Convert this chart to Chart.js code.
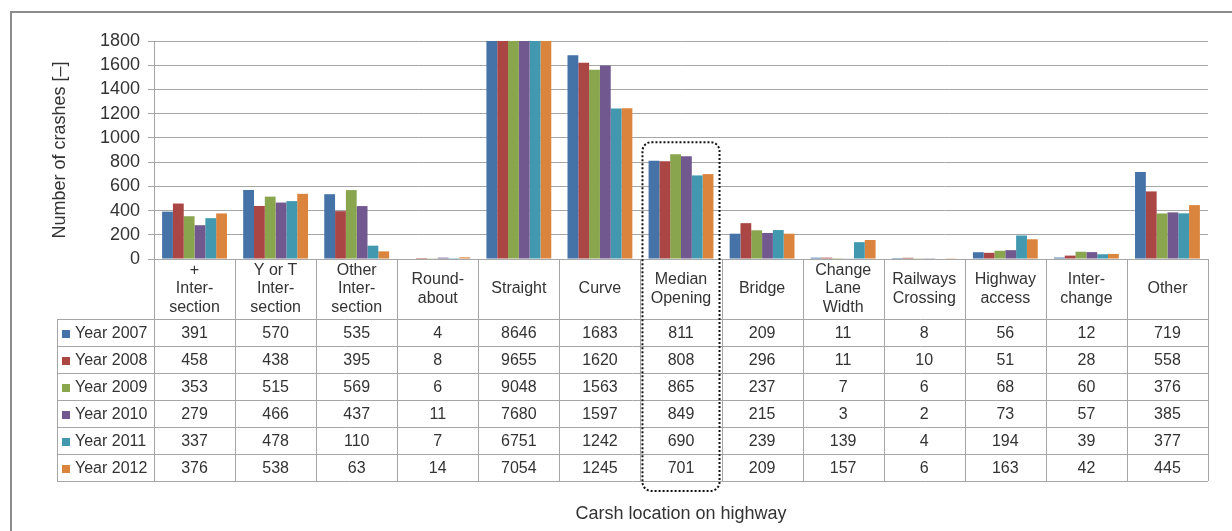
<!DOCTYPE html>
<html>
<head>
<meta charset="utf-8">
<script src="https://cdn.jsdelivr.net/npm/chart.js@4.4.1/dist/chart.umd.min.js"></script>
<style>
  html, body { margin: 0; padding: 0; background: #fff; }
  #wrap { width: 1232px; height: 531px; position: relative; }
</style>
</head>
<body>
<div id="wrap"><canvas id="crashChart"></canvas></div>
<script>
// categories (header lines of the data table)
const locations = [
    ['+', 'Inter-', 'section'],
    ['Y or T', 'Inter-', 'section'],
    ['Other', 'Inter-', 'section'],
    ['Round-', 'about'],
    ['Straight'],
    ['Curve'],
    ['Median', 'Opening'],
    ['Bridge'],
    ['Change', 'Lane', 'Width'],
    ['Railways', 'Crossing'],
    ['Highway', 'access'],
    ['Inter-', 'change'],
    ['Other']
];

const years = ['Year 2007', 'Year 2008', 'Year 2009', 'Year 2010', 'Year 2011', 'Year 2012'];

const year2007 = [391, 570, 535, 4, 8646, 1683, 811, 209, 11, 8, 56, 12, 719];
const year2008 = [458, 438, 395, 8, 9655, 1620, 808, 296, 11, 10, 51, 28, 558];
const year2009 = [353, 515, 569, 6, 9048, 1563, 865, 237, 7, 6, 68, 60, 376];
const year2010 = [279, 466, 437, 11, 7680, 1597, 849, 215, 3, 2, 73, 57, 385];
const year2011 = [337, 478, 110, 7, 6751, 1242, 690, 239, 139, 4, 194, 39, 377];
const year2012 = [376, 538, 63, 14, 7054, 1245, 701, 209, 157, 6, 163, 42, 445];

const yearColors = ['#4572A7', '#AA4643', '#89A54E', '#71588F', '#4198AF', '#DB843D'];

const yMax = 1800;
const yStep = 200;
const highlighted = 'Median Opening'; // column with the dotted box

const FONT = 'Liberation Sans, Arial, sans-serif';
const LINE = '#a6a6a6';
const TEXT = '#333';

const series = [year2007, year2008, year2009, year2010, year2011, year2012];

// draws the outer frame, the data table under the axis and the dotted box
const dataTablePlugin = {
    id: 'dataTable',
    beforeDraw(chart) {
        const ctx = chart.ctx;
        ctx.save();
        ctx.strokeStyle = '#8c8c8c';
        ctx.lineWidth = 2;
        ctx.strokeRect(11, 12, 1240, 540);
        ctx.restore();
    },
    afterDraw(chart) {
        const { ctx, chartArea, scales: { x, y } } = chart;
        const labels = chart.data.labels;
        const colW = (x.right - x.left) / labels.length;
        const headTop = chartArea.bottom;
        const headBottom = headTop + 60;
        const rowH = 27;
        const tableLeft = 57;
        const tableBottom = headBottom + rowH * series.length;

        ctx.save();
        ctx.strokeStyle = LINE;
        ctx.lineWidth = 1;

        // vertical lines of the category columns
        for (let i = 0; i <= labels.length; i++) {
            const px = Math.round(x.left + i * colW) + 0.5;
            ctx.beginPath();
            ctx.moveTo(px, headTop);
            ctx.lineTo(px, tableBottom);
            ctx.stroke();
        }
        // legend column left edge
        ctx.beginPath();
        ctx.moveTo(tableLeft + 0.5, headBottom);
        ctx.lineTo(tableLeft + 0.5, tableBottom);
        ctx.stroke();
        // horizontal row lines
        for (let r = 0; r <= series.length; r++) {
            const py = Math.round(headBottom + r * rowH) + 0.5;
            ctx.beginPath();
            ctx.moveTo(tableLeft, py);
            ctx.lineTo(x.right, py);
            ctx.stroke();
        }

        ctx.fillStyle = TEXT;
        ctx.font = '16px ' + FONT;
        ctx.textAlign = 'center';
        ctx.textBaseline = 'middle';

        // header: category names
        labels.forEach((lines, i) => {
            const cx = x.getPixelForValue(i);
            const mid = (headTop + headBottom) / 2;
            const lh = 18.3;
            lines.forEach((t, k) => {
                ctx.fillText(t, cx, mid + (k - (lines.length - 1) / 2) * lh);
            });
        });

        // rows: legend key + values
        series.forEach((vals, r) => {
            const cy = headBottom + r * rowH + rowH / 2 + 1;
            ctx.fillStyle = yearColors[r];
            ctx.fillRect(62, Math.round(cy - 4), 8, 8);
            ctx.fillStyle = TEXT;
            ctx.textAlign = 'left';
            ctx.fillText(years[r], 75, cy);
            ctx.textAlign = 'center';
            vals.forEach((v, i) => {
                ctx.fillText(String(v), x.getPixelForValue(i), cy);
            });
        });

        // dotted rounded box around the highlighted column
        const hi = labels.findIndex(l => l.join(' ') === highlighted);
        if (hi >= 0) {
            const bx = x.left + hi * colW + 2;
            const by = y.getPixelForValue(965);
            const bw = colW - 4;
            const bh = tableBottom + 10 - by;
            ctx.strokeStyle = '#111';
            ctx.lineWidth = 2;
            ctx.setLineDash([2, 2]);
            ctx.beginPath();
            ctx.roundRect(bx, by, bw, bh, 9);
            ctx.stroke();
        }
        ctx.restore();
    }
};

new Chart(document.getElementById('crashChart'), {
    type: 'bar',
    data: {
        labels: locations,
        datasets: years.map((name, i) => ({
            label: name,
            data: series[i],
            backgroundColor: yearColors[i],
            borderWidth: 0,
            clip: 0
        }))
    },
    options: {
        responsive: true,
        maintainAspectRatio: false,
        animation: false,
        layout: { padding: { left: 0, right: 24, top: 41, bottom: 0 } },
        datasets: {
            bar: { categoryPercentage: 0.8, barPercentage: 1 }
        },
        plugins: {
            legend: { display: false },
            tooltip: { enabled: false }
        },
        scales: {
            x: {
                ticks: { display: false },
                grid: { display: false },
                border: { display: true, color: LINE },
                title: {
                    display: true,
                    text: 'Carsh location on highway',
                    color: TEXT,
                    font: { size: 18, family: FONT },
                    padding: { top: 0, bottom: 6 }
                },
                afterFit(scale) { scale.height = 272; }
            },
            y: {
                min: 0,
                max: yMax,
                ticks: {
                    stepSize: yStep,
                    autoSkip: false,
                    color: TEXT,
                    padding: 8,
                    font: { size: 18, family: FONT, lineHeight: 1 },
                    callback: v => String(v)
                },
                grid: { color: LINE, tickLength: 6 },
                border: { color: LINE },
                title: {
                    display: true,
                    text: 'Number of crashes [–]',
                    color: TEXT,
                    font: { size: 18, family: FONT },
                    padding: { top: 49, bottom: 0 }
                },
                afterFit(scale) { scale.width = 154; }
            }
        }
    },
    plugins: [dataTablePlugin]
});
</script>
</body>
</html>
